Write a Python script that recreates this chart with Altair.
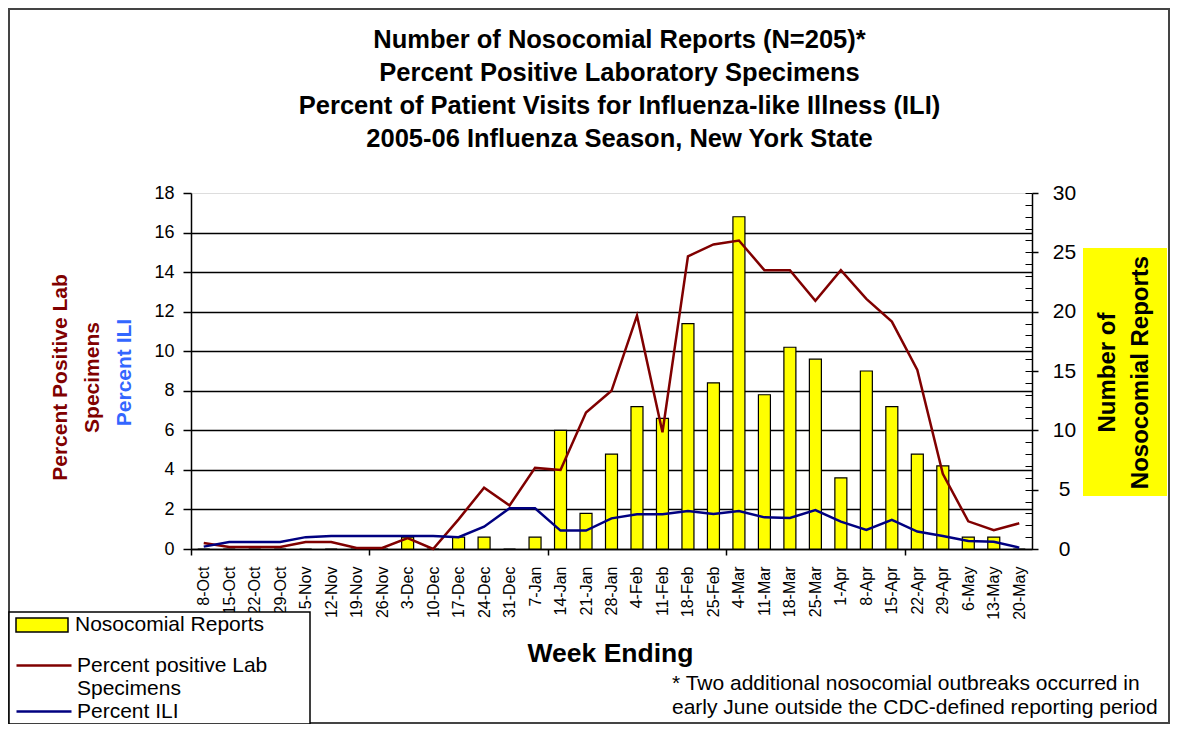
import json
import altair as alt
import pandas as pd

weeks = ["8-Oct", "15-Oct", "22-Oct", "29-Oct", "5-Nov", "12-Nov", "19-Nov", "26-Nov",
         "3-Dec", "10-Dec", "17-Dec", "24-Dec", "31-Dec", "7-Jan", "14-Jan", "21-Jan",
         "28-Jan", "4-Feb", "11-Feb", "18-Feb", "25-Feb", "4-Mar", "11-Mar", "18-Mar",
         "25-Mar", "1-Apr", "8-Apr", "15-Apr", "22-Apr", "29-Apr", "6-May", "13-May", "20-May"]
reports = [0, 0, 0, 0, 0, 0, 0, 0, 1, 0, 1, 1, 0, 1, 10, 3,
           8, 12, 11, 19, 14, 28, 13, 17, 16, 6, 15, 12, 8, 7, 1, 1, 0]
pct_pos_lab = [0.3, 0.1, 0.1, 0.1, 0.35, 0.35, 0.05, 0.05, 0.55, 0.0, 1.5, 3.1, 2.2, 4.1, 4.0, 6.9,
               8.0, 11.8, 5.9, 14.8, 15.4, 15.6, 14.1, 14.1, 12.55, 14.1, 12.65, 11.5, 9.05, 3.8, 1.4, 0.95, 1.3]
pct_ili = [0.12, 0.35, 0.35, 0.35, 0.6, 0.66, 0.66, 0.66, 0.66, 0.66, 0.6, 1.13, 2.06, 2.06, 0.93, 0.93,
           1.55, 1.76, 1.76, 1.92, 1.77, 1.92, 1.6, 1.57, 1.97, 1.38, 0.96, 1.47, 0.88, 0.66, 0.4, 0.37, 0.07]

title_lines = ["Number of Nosocomial Reports (N=205)*",
               "Percent Positive Laboratory Specimens",
               "Percent of Patient Visits for Influenza-like Illness (ILI)",
               "2005-06 Influenza Season, New York State"]
footnote_lines = ["* Two additional nosocomial outbreaks occurred in",
                  "early June outside the CDC-defined reporting period"]
bar_name = "Nosocomial Reports"
lab_name = "Percent positive Lab Specimens"
ili_name = "Percent ILI"

FONT = "Liberation Sans"
W, H = 841, 356
band = W / len(weeks)

df = pd.DataFrame({"week": weeks, "reports": reports, "lab": pct_pos_lab, "ili": pct_ili})
deco = pd.DataFrame({"k": [0]})

tick_weeks = weeks[::7]
tick_test = "indexof(%s, datum.value) >= 0" % json.dumps(tick_weeks)

x_enc = alt.X(
    "week:N", sort=weeks,
    scale=alt.Scale(type="band", paddingInner=0, paddingOuter=0),
    axis=alt.Axis(
        title="Week Ending", titleFont=FONT, titleFontSize=26.5, titleFontWeight="bold",
        titleColor="#000", titleX=419, titleY=104, titleAlign="center", titleBaseline="middle",
        titleAngle=0,
        labelAngle=-90, labelFont=FONT, labelFontSize=16, labelColor="#000",
        labelPadding=11, labelOffset=band / 2, tickOffset=-band / 2, labelOverlap=False,
        tickSize=6, tickWidth=1.5, tickColor="#000",
        tickOpacity={"condition": {"test": tick_test, "value": 1}, "value": 0},
        domainColor="#000", domainWidth=1.5, grid=False,
    ),
)

base = alt.Chart(df)

bars = base.transform_calculate(s=f"'{bar_name}'").mark_bar(
    size=12, stroke="#000", strokeWidth=1.2
).encode(
    x=x_enc,
    y=alt.Y("reports:Q", scale=alt.Scale(domain=[0, 30], nice=False),
            axis=alt.Axis(orient="right", values=list(range(0, 31, 5)),
                          title=["Number of", "Nosocomial Reports"], titleFont=FONT,
                          titleFontSize=24, titleFontWeight="bold", titleColor="#000",
                          titleAngle=270, titleX=75, titleY=179, titleAlign="center",
                          titleBaseline="middle", titleLineHeight=33,
                          labelFont=FONT, labelFontSize=21, labelColor="#000",
                          labelAlign="center", labelPadding=26,
                          tickSize=6, tickWidth=1.5, tickColor="#000",
                          domainColor="#000", domainWidth=1.5, grid=False, zindex=1)),
    fill=alt.Fill("s:N", scale=alt.Scale(domain=[bar_name], range=["#FFFF00"]),
                  legend=alt.Legend(orient="none", legendX=-176, legendY=405, title=None,
                                    symbolType="M-1,-0.27H1V0.27H-1Z", symbolSize=2704,
                                    symbolStrokeColor="#000", symbolStrokeWidth=1.5,
                                    labelFont=FONT, labelFontSize=21, labelColor="#000",
                                    labelOffset=6, padding=0, zindex=1, labelLimit=400)),
)

red = base.transform_calculate(s2=f"'{lab_name}'").mark_line(strokeWidth=2.5).encode(
    x=x_enc,
    y=alt.Y("lab:Q", scale=alt.Scale(domain=[0, 18], nice=False),
            axis=alt.Axis(orient="left", values=list(range(0, 19, 2)),
                          title=["Percent Positive Lab", "Specimens"], titleFont=FONT,
                          titleFontSize=21, titleFontWeight="bold", titleColor="#800000",
                          titleAngle=270, titleX=-131, titleY=184, titleAlign="center",
                          titleBaseline="middle", titleLineHeight=32,
                          labelFont=FONT, labelFontSize=18, labelColor="#000", labelPadding=9,
                          tickSize=8, tickWidth=1.5, tickColor="#000",
                          domainColor="#000", domainWidth=1.5,
                          grid=True, gridColor="#000", gridWidth=1.5,
                          gridOpacity={"condition": {"test": "datum.value >= 18", "value": 0}, "value": 1})),
    stroke=alt.Stroke("s2:N", scale=alt.Scale(domain=[lab_name], range=["#800000"]),
                      legend=alt.Legend(orient="none", legendX=-176, legendY=443.5, title=None,
                                        symbolType="stroke", symbolSize=3025, symbolStrokeWidth=2.5,
                                        labelExpr="['Percent positive Lab', 'Specimens']",
                                        labelFont=FONT, labelFontSize=21, labelColor="#000",
                                        labelOffset=4, padding=0, zindex=1, labelLimit=400)),
)

blue = base.transform_calculate(s3=f"'{ili_name}'").mark_line(strokeWidth=2.5).encode(
    x=x_enc,
    y=alt.Y("ili:Q", scale=alt.Scale(domain=[0, 18], nice=False),
            axis=alt.Axis(orient="left", title=ili_name, titleFont=FONT, titleFontSize=21,
                          titleFontWeight="bold", titleColor="#3366FF", titleAngle=270,
                          titleX=-67, titleY=179, titleAlign="center", titleBaseline="middle",
                          labels=False, ticks=False, domain=False, grid=False)),
    color=alt.Color("s3:N", scale=alt.Scale(domain=[ili_name], range=["#000080"]),
                    legend=alt.Legend(orient="none", legendX=-176, legendY=489.5, title=None,
                                      symbolType="stroke", symbolSize=3025, symbolStrokeWidth=2.5,
                                      labelFont=FONT, labelFontSize=21, labelColor="#000",
                                      labelOffset=4, padding=0, zindex=1, labelLimit=400)),
)

minor = base.mark_point(opacity=0).encode(
    x=x_enc,
    y=alt.Y("reports:Q", scale=alt.Scale(domain=[0, 30], nice=False),
            axis=alt.Axis(orient="right", offset=-7, values=list(range(0, 31)), labels=False,
                          domain=False, grid=False, title=None, tickSize=7, tickWidth=1,
                          tickColor="#000")),
)

yellow_box = alt.Chart(deco).mark_rect(fill="#FFFF00").encode(
    x=alt.value(892), x2=alt.value(976), y=alt.value(55), y2=alt.value(303))

outer_box = alt.Chart(deco).mark_rect(fill="#FFFFFF", fillOpacity=0, stroke="#444444",
                                      strokeWidth=2).encode(
    x=alt.value(-182), x2=alt.value(978), y=alt.value(-184), y2=alt.value(530))

legend_box = alt.Chart(deco).mark_rect(fill="#FFFFFF", stroke="#000", strokeWidth=1.5).encode(
    x=alt.value(-182), x2=alt.value(119), y=alt.value(419), y2=alt.value(531))

footnote = alt.Chart(deco).mark_text(align="left", baseline="middle", font=FONT, fontSize=21,
                                     lineHeight=24, color="#000").encode(
    x=alt.value(481), y=alt.value(491), text=alt.value(footnote_lines))

chart = alt.layer(
    yellow_box, bars, red, blue, minor, outer_box, legend_box, footnote
).resolve_scale(
    y="independent"
).properties(
    width=W, height=H,
    title=alt.Title(text=title_lines, font=FONT, fontSize=25.5, fontWeight="bold", color="#000",
                    lineHeight=33, anchor="middle", frame="group", dx=8, offset=-144),
    padding={"left": 183, "top": 185, "right": 138, "bottom": 175},
    autosize=alt.AutoSizeParams(type="none"),
).configure_view(
    fill="#C0C0C0", stroke=None
).configure(background="#FFFFFF")

chart.save("out.html", embed_options={"renderer": "svg", "actions": False})
